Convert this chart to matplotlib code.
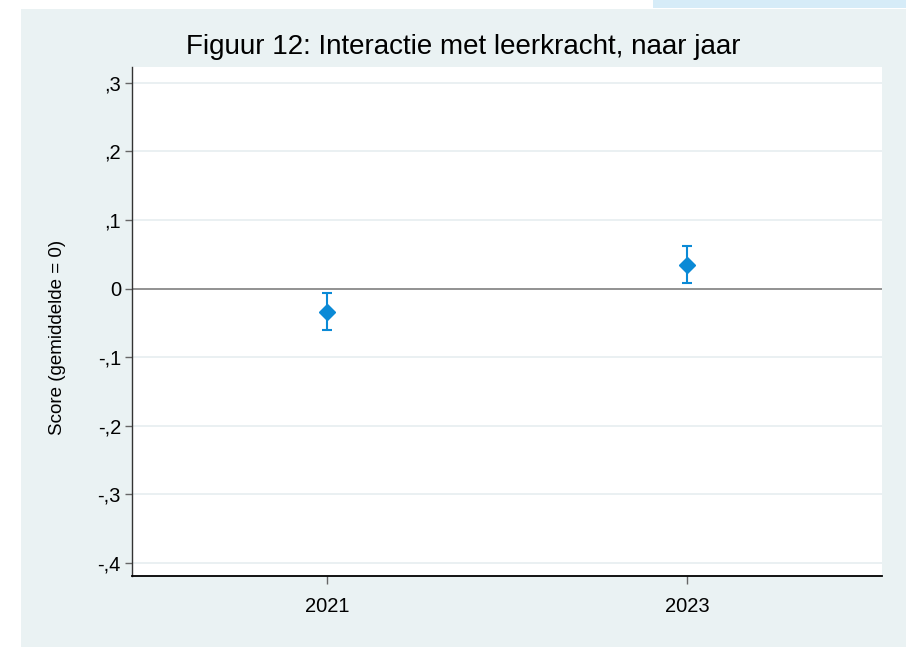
"""
Figuur 12: interactie met leerkracht, naar jaar (Stata-style dot plot with CI).
"""

import matplotlib.pyplot as plt
from matplotlib.patches import Rectangle

plt.rcParams['font.family'] = ['Liberation Sans', 'DejaVu Sans']

# data
years = [2021, 2023]
year_labels = ['2021', '2023']
means = [-0.034, 0.034]
ci_low = [-0.061, 0.008]
ci_high = [-0.007, 0.062]

y_ticks = [-0.4, -0.3, -0.2, -0.1, 0.0, 0.1, 0.2, 0.3]
y_tick_labels = ['-,4', '-,3', '-,2', '-,1', '0', ',1', ',2', ',3']

W, H = 906, 647
fig = plt.figure(figsize=(W / 100, H / 100), dpi=100)
fig.patch.set_facecolor('white')

# bluish-gray graph region and the little strip at the top right
fig.add_artist(Rectangle((21 / W, 0), (W - 21) / W, (H - 9) / H,
                         transform=fig.transFigure, facecolor='#eaf2f3',
                         edgecolor='none', zorder=-1))
fig.add_artist(Rectangle((653 / W, 1 - 8 / H), (W - 653) / W, 8 / H,
                         transform=fig.transFigure, facecolor='#d6ecf8',
                         edgecolor='none', zorder=-1))

ax = fig.add_axes([132 / W, (H - 576) / H, 750 / W, (576 - 67) / H])
ax.set_zorder(1)
ax.set_facecolor('white')

# grid lines and the zero reference line
for t in y_ticks:
    if t != 0:
        ax.axhline(t, color='#e8eff1', lw=1.3, zorder=1)
ax.axhline(0, color='#7f7f7f', lw=1.2, zorder=2)

err_low = [m - lo for m, lo in zip(means, ci_low)]
err_high = [hi - m for m, hi in zip(means, ci_high)]
ax.errorbar(years, means, yerr=[err_low, err_high], fmt='D', color='#0b8ad6',
            markersize=8.3, elinewidth=1.5, capsize=3.6, capthick=1.5, zorder=3)

ax.set_xlim(2019.917, 2024.083)
ax.set_ylim(-0.419, 0.323)
ax.set_xticks(years)
ax.set_xticklabels(year_labels)
ax.set_yticks(y_ticks)
ax.set_yticklabels(y_tick_labels)

ax.spines['top'].set_visible(False)
ax.spines['right'].set_visible(False)
ax.spines['left'].set_color('#333333')
ax.spines['bottom'].set_color('black')
ax.spines['left'].set_linewidth(1.0)
ax.spines['bottom'].set_linewidth(1.3)

ax.tick_params(axis='y', length=5, width=1, color='#666666', labelsize=14.5, pad=3)
ax.tick_params(axis='x', length=6, width=1, color='#666666', labelsize=14.5, pad=9)

fig.text(463 / W, 1 - 47 / H, 'Figuur 12: Interactie met leerkracht, naar jaar',
         ha='center', va='center', fontsize=20)
fig.text(58 / W, 1 - 337 / H, 'Score (gemiddelde = 0)', rotation=90,
         ha='center', va='center', fontsize=13.5)

fig.savefig('out.png', dpi=100, facecolor=fig.get_facecolor())
